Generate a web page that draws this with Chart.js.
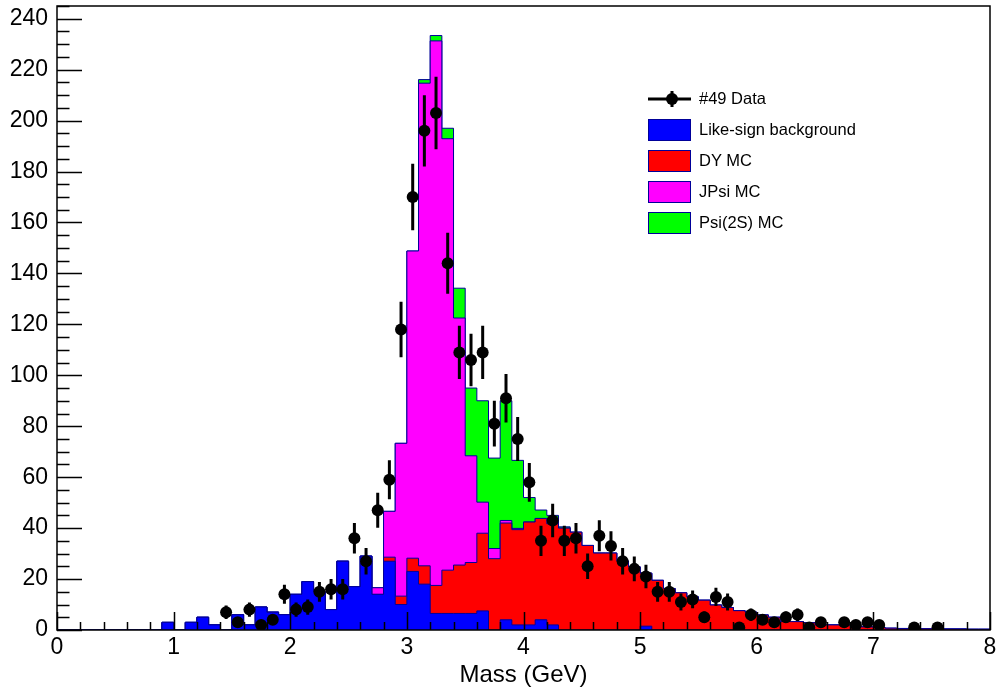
<!DOCTYPE html>
<html>
<head>
<meta charset="utf-8">
<title>Mass (GeV)</title>
<script src="https://cdn.jsdelivr.net/npm/chart.js@4.4.1/dist/chart.umd.min.js"></script>
<style>
  body { margin: 0; background: #fff; }
  #box { position: relative; width: 997px; height: 692px; }
  #legend { position: absolute; left: 648px; top: 83px; font-family: "Liberation Sans", Arial, sans-serif; font-size: 16.5px; color: #000; }
  #legend .row { height: 31px; display: flex; align-items: center; }
  #legend .sym { width: 43px; height: 22px; box-sizing: border-box; border: 1px solid #000099; margin-right: 8px; }
  #legend svg { margin-right: 8px; }
</style>
</head>
<body>
<div id="box">
  <canvas id="massChart" width="997" height="692"></canvas>
  <div id="legend">
    <div class="row"><svg width="43" height="22"><line x1="0" y1="11" x2="43" y2="11" stroke="#000" stroke-width="3"/><line x1="24" y1="3" x2="24" y2="19" stroke="#000" stroke-width="3"/><circle cx="24" cy="11" r="6" fill="#000"/></svg>#49 Data</div>
    <div class="row"><div class="sym" style="background:#0000ff"></div>Like-sign background</div>
    <div class="row"><div class="sym" style="background:#ff0000"></div>DY MC</div>
    <div class="row"><div class="sym" style="background:#ff00ff"></div>JPsi MC</div>
    <div class="row"><div class="sym" style="background:#00ff00"></div>Psi(2S) MC</div>
  </div>
</div>
<script>
// low edge of each 0.1 GeV mass bin
const binLow = [
  0.0, 0.1, 0.2, 0.3, 0.4, 0.5, 0.6, 0.7, 0.8, 0.9,
  1.0, 1.1, 1.2, 1.3, 1.4, 1.5, 1.6, 1.7, 1.8, 1.9,
  2.0, 2.1, 2.2, 2.3, 2.4, 2.5, 2.6, 2.7, 2.8, 2.9,
  3.0, 3.1, 3.2, 3.3, 3.4, 3.5, 3.6, 3.7, 3.8, 3.9,
  4.0, 4.1, 4.2, 4.3, 4.4, 4.5, 4.6, 4.7, 4.8, 4.9,
  5.0, 5.1, 5.2, 5.3, 5.4, 5.5, 5.6, 5.7, 5.8, 5.9,
  6.0, 6.1, 6.2, 6.3, 6.4, 6.5, 6.6, 6.7, 6.8, 6.9,
  7.0, 7.1, 7.2, 7.3, 7.4, 7.5, 7.6, 7.7, 7.8, 7.9
];
const massMax = 8.0;

// #49 data counts
const dataCounts = [
  0, 0, 0, 0, 0, 0, 0, 0, 0, 0,
  0, 0, 0, 0, 7, 3, 8, 2, 4, 14,
  8, 9, 15, 16, 16, 36, 27, 47, 59, 118,
  170, 196, 203, 144, 109, 106, 109, 81, 91, 75,
  58, 35, 43, 35, 36, 25, 37, 33, 27, 24,
  21, 15, 15, 11, 12, 5, 13, 11, 1, 6,
  4, 3, 5, 6, 1, 3, 0, 3, 2, 3,
  2, 0, 0, 1, 0, 1, 0, 0, 0, 0
];

// like-sign background
const likeSign = [
  0, 0, 0, 0, 0, 0, 0, 0, 0, 3,
  0, 3, 5, 2, 0, 6, 2, 9, 7, 6,
  14, 19, 15, 8, 27, 17, 29, 14, 27, 10,
  23, 18, 6.5, 6.5, 6.5, 6.5, 7.5, 0, 4, 2,
  2, 4, 2, 0, 0, 0, 0, 0, 0, 0,
  1.5, 0, 0, 0, 0, 0, 0, 0, 0, 0,
  0, 0, 0, 0, 0, 0, 0, 0, 0, 0,
  0, 0, 0, 0, 0, 0, 0, 0, 0, 0
];

// Drell-Yan MC
const dyMC = [
  0, 0, 0, 0, 0, 0, 0, 0, 0, 0,
  0, 0, 0, 0, 0, 0, 0, 0, 0, 0,
  0, 0, 0, 0, 0, 0, 0, 0, 1.6, 3.3,
  5.2, 7.2, 11, 17, 19, 20, 30.5, 28, 38, 37.4,
  40.4, 39.8, 39.7, 40, 38.4, 33.2, 30.2, 30.2, 27.1, 24.8,
  20.8, 19.5, 16.3, 14.6, 13, 11.7, 9.8, 8.8, 7.6, 7,
  5.9, 5, 3.3, 3.3, 2.9, 2, 2, 2, 1.5, 1.2,
  1, 0.7, 0.6, 0.6, 0.5, 0.5, 0.4, 0.4, 0.3, 0.3
];

// J/psi MC
const jpsiMC = [
  0, 0, 0, 0, 0, 0, 0, 0, 0, 0,
  0, 0, 0, 0, 0, 0, 0, 0, 0, 0,
  0, 0, 0, 0, 0, 0, 0, 2.6, 18, 60,
  120.6, 189.5, 213.8, 169.4, 97, 41.9, 12.2, 4, 1, 0.5,
  0, 0, 0, 0, 0, 0, 0, 0, 0, 0,
  0, 0, 0, 0, 0, 0, 0, 0, 0, 0,
  0, 0, 0, 0, 0, 0, 0, 0, 0, 0,
  0, 0, 0, 0, 0, 0, 0, 0, 0, 0
];

// psi(2S) MC
const psi2sMC = [
  0, 0, 0, 0, 0, 0, 0, 0, 0, 0,
  0, 0, 0, 0, 0, 0, 0, 0, 0, 0,
  0, 0, 0, 0, 0, 0, 0, 0, 0, 0,
  0, 1.4, 2.1, 4.1, 11.7, 26.6, 39.8, 35.5, 47, 26.7,
  9.6, 3.3, 3.3, 0.5, 0, 0, 0, 0, 0, 0,
  0, 0, 0, 0, 0, 0, 0, 0, 0, 0,
  0, 0, 0, 0, 0, 0, 0, 0, 0, 0,
  0, 0, 0, 0, 0, 0, 0, 0, 0, 0
];

const lineBlue = '#000099';
const binWidth = binLow[1] - binLow[0];

// stacked (cumulative) histogram as step points
function stackSteps(layers) {
  const pts = binLow.map((x, i) => ({ x: x, y: layers.reduce((s, a) => s + a[i], 0) }));
  pts.push({ x: massMax, y: pts[pts.length - 1].y });
  return pts;
}

function histLayer(label, color, layers) {
  return {
    label: label,
    data: stackSteps(layers),
    stepped: 'before',
    fill: 'origin',
    backgroundColor: color,
    borderColor: lineBlue,
    borderWidth: 1,
    pointRadius: 0
  };
}

const dataPoints = [];
const errorBars = [];
dataCounts.forEach((n, i) => {
  if (n <= 0) return;
  const xc = binLow[i] + binWidth / 2;
  const e = Math.sqrt(n);
  dataPoints.push({ x: xc, y: n });
  errorBars.push({ x: xc, y: n - e }, { x: xc, y: n + e }, { x: xc, y: null });
});

// ROOT-style frame with inward ticks
const rootFrame = {
  id: 'rootFrame',
  afterDatasetsDraw(chart) {
    const { ctx, chartArea: a, scales: { x, y } } = chart;
    ctx.save();
    ctx.strokeStyle = '#000';
    ctx.lineWidth = 1.5;
    ctx.strokeRect(a.left, a.top, a.right - a.left, a.bottom - a.top);
    ctx.beginPath();
    for (let k = 0; k <= 40; k++) {
      const px = Math.round(x.getPixelForValue(k * 0.2)) + 0.5;
      const len = k % 5 === 0 ? 18 : 8;
      ctx.moveTo(px, a.bottom);
      ctx.lineTo(px, a.bottom - len);
    }
    for (let k = 0; k * 5 <= 245; k++) {
      const py = Math.round(y.getPixelForValue(k * 5)) + 0.5;
      const len = k % 4 === 0 ? 25 : 12.5;
      ctx.moveTo(a.left, py);
      ctx.lineTo(a.left + len, py);
    }
    ctx.stroke();
    ctx.restore();
  }
};

const tickFont = { family: 'Liberation Sans', size: 23 };

new Chart(document.getElementById('massChart').getContext('2d'), {
  type: 'line',
  data: {
    datasets: [
      {
        label: '#49 Data',
        data: dataPoints,
        showLine: false,
        pointRadius: 6,
        pointBackgroundColor: '#000',
        pointBorderWidth: 0
      },
      {
        label: 'errors',
        data: errorBars,
        spanGaps: false,
        borderColor: '#000',
        borderWidth: 3,
        pointRadius: 0,
        fill: false
      },
      histLayer('Like-sign background', '#0000ff', [likeSign]),
      histLayer('DY MC', '#ff0000', [likeSign, dyMC]),
      histLayer('JPsi MC', '#ff00ff', [likeSign, dyMC, jpsiMC]),
      histLayer('Psi(2S) MC', '#00ff00', [likeSign, dyMC, jpsiMC, psi2sMC])
    ]
  },
  options: {
    responsive: false,
    animation: false,
    layout: { padding: { top: 4, right: 7, left: 0, bottom: 0 } },
    plugins: { legend: { display: false }, tooltip: { enabled: false } },
    scales: {
      x: {
        type: 'linear',
        min: 0,
        max: 8,
        grid: { display: false, drawTicks: false },
        border: { display: false },
        ticks: { stepSize: 1, padding: 4, color: '#000', font: tickFont, maxRotation: 0, autoSkip: false },
        title: { display: true, text: 'Mass (GeV)', color: '#000', font: { family: 'Liberation Sans', size: 24 }, padding: { top: 0, bottom: 2 } },
        afterFit: s => { s.height = 62; s.paddingLeft = 0; s.paddingRight = 0; }
      },
      y: {
        min: 0,
        max: 245,
        grid: { display: false, drawTicks: false },
        border: { display: false },
        ticks: { stepSize: 20, includeBounds: false, padding: 9, color: '#000', font: tickFont },
        afterFit: s => { s.width = 57; s.paddingTop = 0; s.paddingBottom = 0; }
      }
    }
  },
  plugins: [rootFrame]
});
</script>
</body>
</html>
